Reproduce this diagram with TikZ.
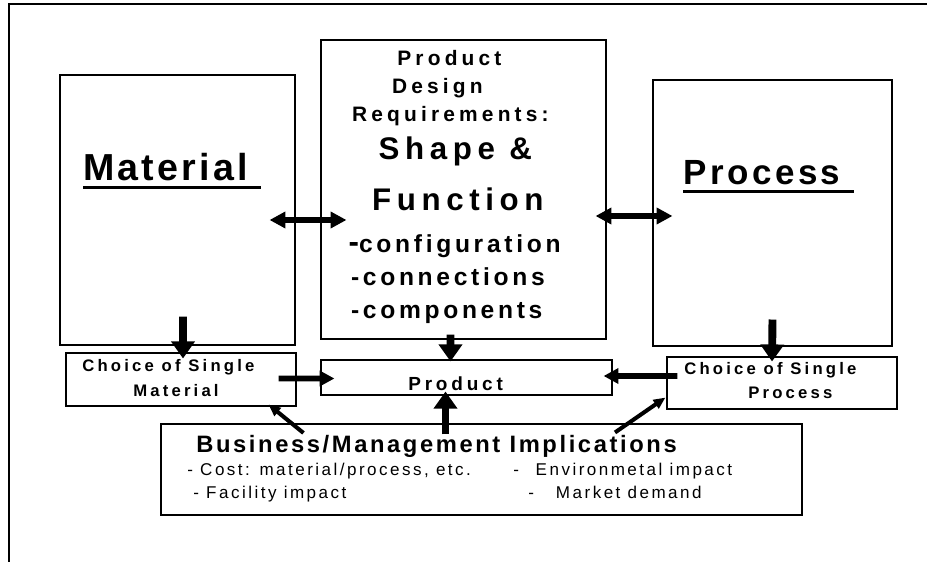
\documentclass[tikz,border=0pt]{standalone}
\usepackage{fontspec}
\setmainfont{Liberation Sans}
\newcommand{\heavyline}[1]{\setbox0\hbox{#1}\rlap{\rule[-4.3pt]{\wd0}{1.7pt}}\box0}
\usetikzlibrary{arrows.meta,positioning}
\tikzstyle{every box} = [line width=0.6pt]
\tikzstyle{box} = [draw, inner sep=0pt, every box]
\tikzstyle{txt} = [inner sep=0pt, anchor=base west]
\tikzstyle{link} = [-{Triangle[length=9.7pt,width=13pt]}, line width=4.5pt, draw]
\tikzstyle{side link} = [-{Triangle[length=8.5pt,width=8.5pt]}, line width=3.4pt, draw]
\tikzstyle{both link} = [{Triangle[length=9pt,width=9pt]}-{Triangle[length=9pt,width=9pt]}, line width=3.4pt, draw]
\tikzstyle{thin link} = [-{Triangle[length=6.8pt,width=5.7pt]}, line width=2.3pt, draw]

\begin{document}
\begin{tikzpicture}
    \tikzstyle{title} = [txt, font=\fontsize{21.4}{24}\selectfont\bfseries\addfontfeatures{LetterSpace=8.5}]
    \tikzstyle{dsmall} = [txt, font=\fontsize{11.9}{14}\selectfont\bfseries\addfontfeatures{LetterSpace=20}]
    \tikzstyle{dbig} = [txt, font=\fontsize{17.8}{20}\selectfont\bfseries\addfontfeatures{LetterSpace=18}]
    \tikzstyle{dlist} = [txt, font=\fontsize{14}{16}\selectfont\bfseries\addfontfeatures{LetterSpace=15}]
    \tikzstyle{choice} = [txt, font=\fontsize{9.5}{11}\selectfont\bfseries\addfontfeatures{LetterSpace=19}]
    \tikzstyle{btitle} = [txt, font=\fontsize{13.5}{16}\selectfont\bfseries\addfontfeatures{LetterSpace=11}]
    \tikzstyle{body} = [txt, font=\fontsize{9.7}{11}\selectfont\addfontfeatures{LetterSpace=14.5}]
    \useasboundingbox (0,0) rectangle (18.54,-11.24);
    \draw[line width=1.1pt] (0.18,-11.24) |- (18.54,-0.08);

    \node[box, minimum width=4.7cm, minimum height=5.4cm] (material) at (3.55,-4.2) {};
    \node[box, minimum width=5.7cm, minimum height=5.98cm] (design) at (9.27,-3.79) {};
    \node[box, minimum width=4.78cm, minimum height=5.32cm] (process) at (15.45,-4.26) {};
    \node[box, minimum width=4.6cm, minimum height=1.06cm] (choicemat) at (3.62,-7.59) {};
    \node[box, minimum width=5.82cm, minimum height=0.7cm] (product) at (9.33,-7.55) {};
    \node[box, minimum width=4.6cm, minimum height=1.04cm] (choiceproc) at (15.64,-7.66) {};
    \node[box, minimum width=12.82cm, minimum height=1.82cm] (business) at (9.63,-9.39) {};

    \node[title] (materialtxt) at (1.66,-3.62) {\heavyline{Material\ }};
    \node[title, font=\fontsize{19.9}{22}\selectfont\bfseries\addfontfeatures{LetterSpace=10}] (processtxt) at (13.66,-3.7) {\heavyline{Process\ }};

    \node[dsmall] (dproduct) at (7.94,-1.314) {Product};
    \node[dsmall] (ddesign) at (7.834,-1.88) {Design};
    \node[dsmall] (drequire) at (7.034,-2.434) {Requirements:};
    \node[dbig] (dshape) at (7.566,-3.2) {Shape \&};
    \node[dbig] (dfunction) at (7.434,-4.214) {Function};
    \node[dlist] (dconfig) at (6.966,-5.06) {{\fontsize{17.8}{20}\selectfont -}configuration};
    \node[dlist] (dconnect) at (7.014,-5.72) {-connections};
    \node[dlist] (dcompo) at (7.014,-6.366) {-components};

    \node[choice] (cmatone) at (1.64,-7.44) {Choice of Single};
    \node[choice] (cmattwo) at (2.66,-7.92) {Material};
    \node[choice, font=\fontsize{10.8}{12}\selectfont\bfseries\addfontfeatures{LetterSpace=20}] (producttxt) at (8.16,-7.8) {Product};
    \node[choice] (cprocone) at (13.68,-7.5) {Choice of Single};
    \node[choice] (cproctwo) at (14.96,-7.98) {Process};

    \node[btitle] (btitle) at (3.92,-9.04) {Business/Management Implications};
    \node[body] (bcost) at (3.74,-9.5) {- Cost: material/process, etc.};
    \node[body] (bfacility) at (3.86,-9.96) {- Facility impact};
    \node[body] (benviron) at (10.26,-9.5) {-\hspace{9.5pt}Environmetal impact};
    \node[body] (bmarket) at (10.56,-9.96) {-\hspace{12.5pt}Market demand};

    \draw[both link] ([xshift=-0.52cm,yshift=-0.2cm]material.east) -- ([xshift=0.52cm,yshift=-0.61cm]design.west);
    \draw[both link] ([xshift=-0.22cm,yshift=-0.53cm]design.east) -- ([xshift=0.4cm,yshift=-0.06cm]process.west);
    \draw[link] ([xshift=0.11cm,yshift=0.58cm]material.south) -- ([xshift=0.04cm,yshift=-0.12cm]choicemat.north);
    \draw[link] ([xshift=-0.26cm,yshift=0.1cm]design.south) -- ([xshift=-0.32cm,yshift=-0.04cm]product.north);
    \draw[link] ([yshift=0.54cm]process.south) -- ([xshift=-0.2cm,yshift=-0.1cm]choiceproc.north);
    \draw[side link] ([xshift=-0.36cm,yshift=0.02cm]choicemat.east) -- ([xshift=0.28cm,yshift=-0.02cm]product.west);
    \draw[side link] ([xshift=0.22cm,yshift=0.14cm]choiceproc.west) -- ([xshift=-0.18cm,yshift=0.03cm]product.east);
    \draw[link] ([xshift=-0.72cm,yshift=-0.22cm]business.north) -- ([xshift=-0.42cm,yshift=0.08cm]product.south);
    \draw[thin link] ([xshift=2.86cm,yshift=-0.19cm]business.north west) -- ([xshift=-0.56cm,yshift=0.04cm]choicemat.south east);
    \draw[thin link] ([xshift=2.67cm,yshift=-0.18cm]business.north) -- ([xshift=-0.02cm,yshift=0.24cm]choiceproc.south west);
\end{tikzpicture}
\end{document}
